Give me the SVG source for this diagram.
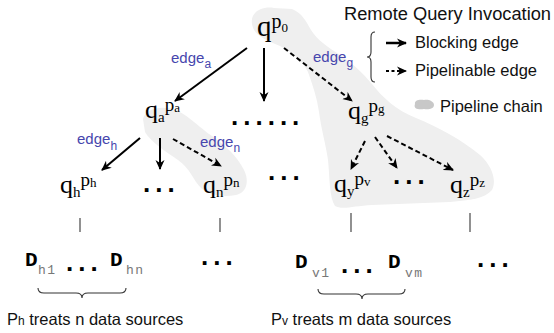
<svg xmlns="http://www.w3.org/2000/svg" width="554" height="333" viewBox="0 0 554 333">
<defs>
<marker id="ah" viewBox="0 0 10 10" refX="9" refY="5" markerWidth="10" markerHeight="10" markerUnits="userSpaceOnUse" orient="auto">
<path d="M0,0.5 L10,5 L0,9.5 L3,5 z" fill="#000"/>
</marker>
<style>
.q{font-family:"Liberation Serif",serif;fill:#000}
.qm{font-size:26px}
.qt{font-size:29px}
.qs{font-size:15px}
.qp{font-size:19px}
.qp0{font-size:20px}
.qss{font-size:13px}
.lbl{font-family:"Liberation Sans",Arial,sans-serif;fill:#4646ad;font-size:15px}
.lbl .s{font-size:12px}
.txt{font-family:"Liberation Sans",Arial,sans-serif;fill:#111;font-size:16.5px}
.title{font-family:"Liberation Sans",Arial,sans-serif;fill:#111;font-size:18.3px}
.small{font-size:12px}
.dots{font-family:"Liberation Sans",Arial,sans-serif;font-weight:bold;font-size:26px;fill:#000;letter-spacing:5px}
.dm{font-family:"Liberation Mono","Courier New",monospace;font-weight:bold;font-size:21px;fill:#000}
.ds{font-family:"Liberation Mono","Courier New",monospace;font-size:13px;fill:#777;letter-spacing:1.5px}
.e{fill:none;stroke:#000;stroke-width:2}
.dash{stroke-dasharray:5 3}
.lgs{stroke-width:2.5}
.lgd{stroke-dasharray:3 2.5}
.vl{stroke:#555;stroke-width:1.3}
.br{fill:none;stroke:#333;stroke-width:1.1}
.blob{fill:#efefef}
.chip{fill:#c8c8c8}
</style>
</defs>
<g id="blobs">
<path class="blob" d="M252,24 C250,12 262,6 274,8 L292,9 C302,13 306,21 311,30 C317,40 328,47 340,55 C352,63 362,72 372,84 C382,97 396,110 416,118 C438,127 462,140 480,155 C492,166 497,180 492,190 C484,199 470,200 450,202 L372,205 C354,206 342,210 335,206 C329,196 330,180 328,160 C326,145 321,128 319,112 C317,98 313,86 308,72 C302,60 292,52 280,46 C266,40 254,36 252,24 Z"/>
<path class="blob" d="M143,119 C146,107 165,105 178,111 C190,117 200,128 212,136 C226,146 237,156 244,170 C250,182 246,193 236,195 C224,197 210,196 201,188 C193,180 190,168 178,160 C166,152 150,141 145,132 Z"/>
</g>
<g id="connectors">
<line class="e" x1="247" y1="48" x2="175" y2="101" marker-end="url(#ah)"/>
<line class="e" x1="264" y1="48" x2="264" y2="101" marker-end="url(#ah)"/>
<line class="e dash" x1="284" y1="48" x2="352" y2="101" marker-end="url(#ah)"/>
<line class="e" x1="140" y1="138" x2="102" y2="170" marker-end="url(#ah)"/>
<line class="e" x1="160" y1="138" x2="160" y2="169" marker-end="url(#ah)"/>
<line class="e dash" x1="173" y1="139" x2="221" y2="166" marker-end="url(#ah)"/>
<line class="e dash" x1="365" y1="141" x2="351" y2="169" marker-end="url(#ah)"/>
<line class="e dash" x1="375" y1="137" x2="397" y2="168" marker-end="url(#ah)"/>
<line class="e dash" x1="387" y1="136" x2="453" y2="170" marker-end="url(#ah)"/>
<line class="vl" x1="80" y1="218" x2="80" y2="232"/>
<line class="vl" x1="220" y1="218" x2="220" y2="232"/>
<line class="vl" x1="351" y1="213" x2="351" y2="232"/>
<line class="vl" x1="470" y1="213" x2="470" y2="232"/>
</g>
<g id="edge-labels">
<text class="lbl" x="171" y="63">edge<tspan class="s" dy="5">a</tspan></text>
<text class="lbl" x="313" y="62">edge<tspan class="s" dy="5">g</tspan></text>
<text class="lbl" x="77" y="144">edge<tspan class="s" dy="6">h</tspan></text>
<text class="lbl" x="200" y="147">edge<tspan class="s" dy="5">n</tspan></text>
</g>
<g id="node-root">
<text class="q" x="257" y="36"><tspan class="qt">q</tspan><tspan class="qp0" dy="-8">p</tspan><tspan class="qss" dy="4">0</tspan></text>
</g>
<g id="node-a">
<text class="q" x="145" y="118"><tspan class="qm">q</tspan><tspan class="qs" dy="4">a</tspan><tspan class="qp" dy="-11">p</tspan><tspan class="qss" dy="1">a</tspan></text>
</g>
<g id="node-g">
<text class="q" x="348" y="119"><tspan class="qm">q</tspan><tspan class="qs" dy="4">g</tspan><tspan class="qp" dy="-11">p</tspan><tspan class="qss" dy="1">g</tspan></text>
</g>
<g id="node-h">
<text class="q" x="60" y="193"><tspan class="qm">q</tspan><tspan class="qs" dy="4">h</tspan><tspan class="qp" dy="-11">p</tspan><tspan class="qss" dy="1">h</tspan></text>
</g>
<g id="node-n">
<text class="q" x="203" y="193"><tspan class="qm">q</tspan><tspan class="qs" dy="4">n</tspan><tspan class="qp" dy="-11">p</tspan><tspan class="qss" dy="1">n</tspan></text>
</g>
<g id="node-y">
<text class="q" x="334" y="192"><tspan class="qm">q</tspan><tspan class="qs" dy="4">y</tspan><tspan class="qp" dy="-11">p</tspan><tspan class="qss" dy="1">v</tspan></text>
</g>
<g id="node-z">
<text class="q" x="450" y="193"><tspan class="qm">q</tspan><tspan class="qs" dy="4">z</tspan><tspan class="qp" dy="-11">p</tspan><tspan class="qss" dy="1">z</tspan></text>
</g>
<g id="ellipses">
<text class="dots" x="231" y="125">......</text>
<text class="dots" x="143" y="192">...</text>
<text class="dots" x="268" y="180">...</text>
<text class="dots" x="393" y="184">...</text>
<text class="dots" x="66" y="271">...</text>
<text class="dots" x="201" y="265">...</text>
<text class="dots" x="341" y="273">...</text>
<text class="dots" x="477" y="267">...</text>
</g>
<g id="sources-h">
<text class="dm" x="25" y="266">D</text><text class="ds" x="38" y="274">h1</text>
<text class="dm" x="110" y="266">D</text><text class="ds" x="126" y="274">hn</text>
<path class="br" d="M38,288 Q38,293 44,293 L76,293 Q82,293 82,298 Q82,293 88,293 L120,293 Q126,293 126,288"/>
<text class="txt" x="7" y="325">P<tspan class="small">h</tspan> treats n data sources</text>
</g>
<g id="sources-v">
<text class="dm" x="295" y="268">D</text><text class="ds" x="312" y="277">v1</text>
<text class="dm" x="388" y="268">D</text><text class="ds" x="405" y="277">vm</text>
<path class="br" d="M318,289 Q318,294 324,294 L356,294 Q362,294 362,299 Q362,294 368,294 L399,294 Q405,294 405,289"/>
<text class="txt" x="271" y="325">P<tspan class="small">v</tspan> treats m data sources</text>
</g>
<g id="legend">
<text class="title" x="344" y="20" textLength="207" lengthAdjust="spacingAndGlyphs">Remote Query Invocation</text>
<path class="br" d="M375,32 Q371,32 371,37 L371,52 Q371,57 367,57 Q371,57 371,62 L371,77 Q371,82 375,82"/>
<line class="e lgs" x1="386" y1="43" x2="406" y2="43" marker-end="url(#ah)"/>
<line class="e lgd" x1="386" y1="71" x2="406" y2="71" marker-end="url(#ah)"/>
<text class="txt" x="415" y="48">Blocking edge</text>
<text class="txt" x="415" y="76">Pipelinable edge</text>
<path class="chip" d="M415,104 C414,100 420,99 424,100 C428,99 434,101 434,105 C434,109 428,110 424,109 C419,110 413,109 415,104 Z"/>
<text class="txt" x="440" y="112">Pipeline chain</text>
</g>
</svg>
